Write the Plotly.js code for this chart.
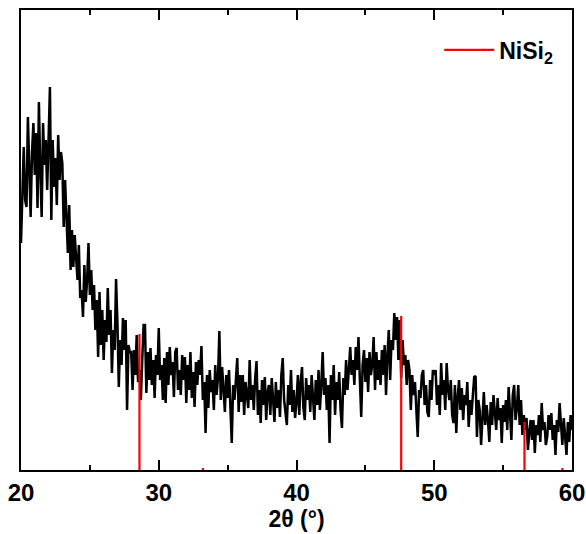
<!DOCTYPE html>
<html>
<head>
<meta charset="utf-8">
<script src="https://cdn.plot.ly/plotly-3.0.1.min.js"></script>
<style>html,body{margin:0;padding:0;background:#fff;}#chart{width:586px;height:534px;}</style>
</head>
<body>
<div id="chart"></div>
<script>
// XRD pattern: 2-theta from 20 to 60 in steps of 0.1 degree
const thetaStart = 20.0;
const thetaStep = 0.1;
const intensity = [
  227, 290, 323, 270, 263, 353, 300, 253, 318, 347,
  295, 337, 262, 368, 300, 253, 347, 305, 330, 280,
  330, 383, 250, 330, 283, 312, 265, 335, 290, 318,
  307, 243, 290, 257, 217, 265, 200, 240, 203, 235,
  212, 190, 225, 172, 180, 153, 205, 168, 190, 227,
  175, 200, 160, 185, 140, 170, 113, 178, 125, 160,
  110, 150, 128, 182, 135, 160, 97, 140, 120, 191,
  147, 83, 130, 105, 152, 120, 150, 60, 125, 118,
  118, 80, 120, 95, 135, 88, 100, 70, 110, 145,
  145, 77, 118, 90, 122, 85, 110, 72, 115, 95,
  142, 90, 105, 70, 112, 67, 118, 85, 123, 95,
  108, 73, 118, 122, 80, 100, 75, 115, 90, 113,
  67, 105, 80, 118, 72, 98, 63, 108, 85, 110,
  95, 124, 70, 88, 37, 95, 62, 100, 78, 90,
  60, 105, 75, 92, 139, 70, 103, 80, 58, 95,
  72, 100, 60, 27, 85, 70, 90, 112, 58, 95,
  68, 95, 55, 88, 75, 62, 110, 70, 85, 60,
  92, 109, 55, 80, 47, 90, 65, 93, 50, 78,
  85, 55, 92, 70, 48, 88, 62, 80, 53, 95,
  112, 70, 58, 45, 85, 65, 100, 58, 80, 52,
  68, 95, 55, 88, 103, 62, 50, 92, 70, 85,
  58, 95, 72, 50, 90, 65, 100, 60, 85, 118,
  75, 92, 60, 85, 27, 95, 70, 105, 55, 88,
  70, 98, 60, 42, 92, 75, 110, 80, 100, 123,
  95, 110, 85, 123, 100, 133, 90, 53, 105, 120,
  88, 112, 78, 118, 95, 105, 133, 80, 118, 90,
  110, 85, 120, 95, 125, 75, 115, 140, 90, 130,
  120, 157, 130, 153, 110, 150, 92, 130, 105, 115,
  85, 110, 100, 60, 95, 75, 88, 55, 33, 80,
  72, 95, 100, 65, 85, 58, 53, 90, 70, 100,
  95, 100, 65, 85, 55, 107, 75, 90, 60, 107,
  80, 70, 90, 55, 47, 85, 37, 73, 90, 60,
  82, 50, 75, 65, 88, 43, 70, 55, 80, 93,
  94, 33, 70, 60, 25, 55, 78, 45, 65, 50,
  28, 68, 45, 75, 55, 40, 72, 50, 62, 27,
  65, 48, 70, 40, 83, 55, 30, 75, 85, 50,
  62, 85, 45, 70, 35, 55, 40, 52, 20, 38,
  50, 30, 50, 17, 45, 35, 55, 28, 67, 40,
  48, 25, 33, 55, 40, 57, 30, 45, 15, 50,
  38, 67, 42, 25, 52, 35, 15, 48, 28, 55,
  40
];
// NiSi2 reference stick pattern
const stickPos = [28.6, 33.2, 47.6, 56.55, 59.3];
const stickInt = [136, 2, 154, 48, 2];
const xTickVals = [20, 30, 40, 50, 60];
const xTickText = ['20', '30', '40', '50', '60'];

const theta = intensity.map((_, i) => +(thetaStart + i * thetaStep).toFixed(2));

const sx = [], sy = [];
stickPos.forEach((p, i) => { sx.push(p, p, null); sy.push(0, stickInt[i], null); });

const font = 'Liberation Sans, Arial, sans-serif';
const data = [
  {x: theta, y: intensity, type: 'scatter', mode: 'lines',
   line: {color: '#000000', width: 2.5}, showlegend: false, hoverinfo: 'skip'},
  {x: sx, y: sy, type: 'scatter', mode: 'lines', name: 'NiSi<sub>2</sub>',
   line: {color: '#ff0000', width: 2.2}, hoverinfo: 'skip'}
];
const layout = {
  width: 586, height: 534,
  margin: {l: 21, r: 14, t: 10, b: 64},
  paper_bgcolor: '#ffffff', plot_bgcolor: '#ffffff',
  xaxis: {
    range: [20, 60], tickvals: xTickVals, ticktext: xTickText,
    ticks: 'inside', ticklen: 10, tickwidth: 2, tickcolor: '#000',
    minor: {tickvals: [25, 35, 45, 55], ticks: 'inside', ticklen: 5, tickwidth: 2, tickcolor: '#000'},
    showline: true, linecolor: '#000', linewidth: 2, mirror: 'allticks',
    showgrid: false, zeroline: false,
    tickfont: {family: font, size: 24, color: '#000', weight: 'bold'},
    title: {text: '2θ (°)', font: {family: font, size: 23, color: '#000', weight: 'bold'}, standoff: 3}
  },
  yaxis: {
    range: [0, 460], showticklabels: false, ticks: '',
    showline: true, linecolor: '#000', linewidth: 2, mirror: true,
    showgrid: false, zeroline: false
  },
  legend: {x: 0.975, y: 0.96, xanchor: 'right', yanchor: 'top', bgcolor: 'rgba(0,0,0,0)',
    itemwidth: 50,
    font: {family: font, size: 23, color: '#000', weight: 'bold'}},
  showlegend: true
};
Plotly.newPlot('chart', data, layout, {staticPlot: true, displayModeBar: false});
</script>
</body>
</html>
